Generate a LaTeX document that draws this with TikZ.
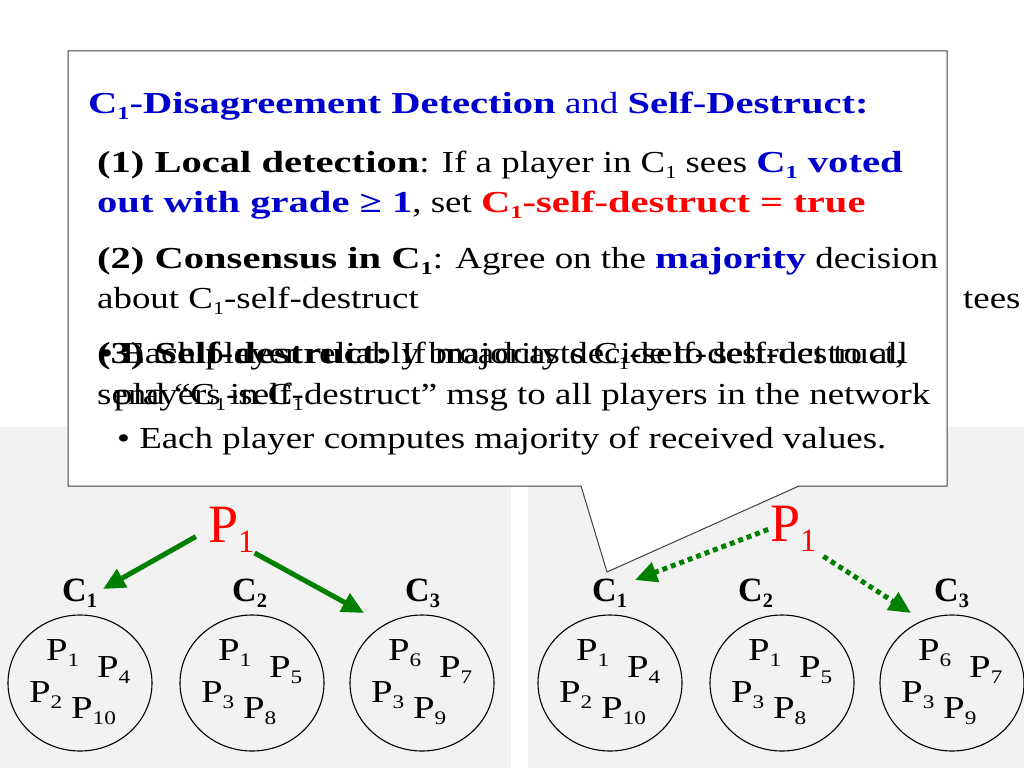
\documentclass[tikz,border=0pt]{standalone}
\usepackage{fontspec}
\setmainfont{Liberation Serif}[UprightFeatures={FakeStretch=1.21}, BoldFeatures={FakeStretch=1.33}]
\newfontfamily\leaderfont{Liberation Serif}
\usetikzlibrary{arrows.meta,shapes.geometric}

\definecolor{ttlblue}{RGB}{0,0,204}
\definecolor{msgred}{RGB}{255,0,0}
\definecolor{arrgreen}{RGB}{0,128,0}
\definecolor{panelgray}{RGB}{242,242,242}
\definecolor{boxline}{RGB}{64,64,64}

\newcommand{\lowsub}[1]{\raisebox{-0.2em}{\scalebox{0.6}{#1}}}

\begin{document}
\begin{tikzpicture}[
      x=1pt, y=-1pt,
      txt/.style={anchor=base west, inner sep=0pt, font=\fontsize{30.5}{36}\selectfont},
      cluster/.style={draw, ellipse, inner sep=0pt, minimum width=144pt, minimum height=136pt, line width=1.1pt},
      plabel/.style={anchor=base west, inner sep=0pt, font=\fontsize{32}{36}\selectfont},
      clabel/.style={anchor=base west, inner sep=0pt, font=\leaderfont\fontsize{34}{38}\selectfont\bfseries},
      leader/.style={anchor=base west, inner sep=0pt, text=msgred, font=\leaderfont\fontsize{54}{60}\selectfont},
      vote/.style={arrgreen, line width=5pt, -{Triangle[length=22pt,width=20pt]}},
      vote try/.style={vote, dash pattern=on 5pt off 4pt}
    ]
    \useasboundingbox (0,0) rectangle (1024,768);

    % panels behind the trees
    \fill[panelgray] (0,427) rectangle (511,768);
    \fill[panelgray] (528,427) rectangle (1024,768);

    % what is left of the slide text
    \node[txt] (tees) at (963,308) {tees};

    % callout
    \draw[boxline, fill=white, line width=1pt] (68,51) -- (947,51) -- (947,486) -- (799,486)
      -- (607,572) -- (581,486) -- (68,486) -- cycle;

    \node[txt, text=ttlblue] (title) at (88,113) {\textbf{C\lowsub{1}-Disagreement Detection} and \textbf{Self-Destruct:}};
    \node[txt] (loc1) at (97,172) {\textbf{(1) Local detection}: If a player in C\lowsub{1} sees \textcolor{ttlblue}{\textbf{C\lowsub{1} voted}}};
    \node[txt] (loc2) at (97,212) {\textcolor{ttlblue}{\textbf{out with grade ≥ 1}}, set \textcolor{msgred}{\textbf{C\lowsub{1}-self-destruct = true}}};
    \node[txt] (cons1) at (97,268) {\textbf{(2) Consensus in C\lowsub{1}}: Agree on the \textcolor{ttlblue}{\textbf{majority}} decision};
    \node[txt] (cons2) at (97,308) {about C\lowsub{1}-self-destruct};
    \node[txt] (sd1) at (97,363) {\textbf{(3) Self-destruct:} If majority decide to self-destruct,};
    \node[txt] (sd2) at (97,404) {send “C\lowsub{1}-self-destruct” msg to all players in the network};
    \node[txt] (bc1) at (100,363) {• Each player reliably broadcasts C\lowsub{1}-self-destruct to all};
    \node[txt] (bc2) at (114,404) {players in C\lowsub{1}};
    \node[txt] (maj) at (117,448) {• Each player computes majority of received values.};

    % committees
    \foreach \dx/\side in {0/L, 530/R} {
      \foreach \cx/\k/\pa/\pb/\pc/\pd in {80/1/1/4/2/10, 252/2/1/5/3/8, 422/3/6/7/3/9} {
        \node[cluster] (e\k\side) at ({\cx+\dx},683) {};
        \node[plabel] (e\k\side-a) at ({\cx+\dx-34},660) {P\lowsub{\pa}};
        \node[plabel] (e\k\side-b) at ({\cx+\dx+17},677) {P\lowsub{\pb}};
        \node[plabel] (e\k\side-c) at ({\cx+\dx-51},702) {P\lowsub{\pc}};
        \node[plabel] (e\k\side-d) at ({\cx+\dx-9},718) {P\lowsub{\pd}};
      }
    }

    \node[clabel] (c1L) at (62,601) {C\lowsub{1}};
    \node[clabel] (c2L) at (232,601) {C\lowsub{2}};
    \node[clabel] (c3L) at (405,601) {C\lowsub{3}};
    \node[clabel] (c1R) at (592,601) {C\lowsub{1}};
    \node[clabel] (c2R) at (738,601) {C\lowsub{2}};
    \node[clabel] (c3R) at (934,601) {C\lowsub{3}};

    % sender
    \node[leader] (pL) at (208,542) {P\lowsub{1}};
    \node[leader] (pR) at (770,541) {P\lowsub{1}};

    \coordinate (tipLa) at (103,589);
    \coordinate (tipLb) at (364,613);
    \coordinate (tipRa) at (635,580);
    \coordinate (tipRb) at (911,613);

    \draw[vote, shorten <=14pt] (pL.west) -- (tipLa);
    \draw[vote] (pL.south east) -- (tipLb);
    \draw[vote try, shorten <=2pt] (pR.west) -- (tipRa);
    \draw[vote try, shorten <=8pt] (pR.south east) -- (tipRb);
  \end{tikzpicture}
\end{document}
